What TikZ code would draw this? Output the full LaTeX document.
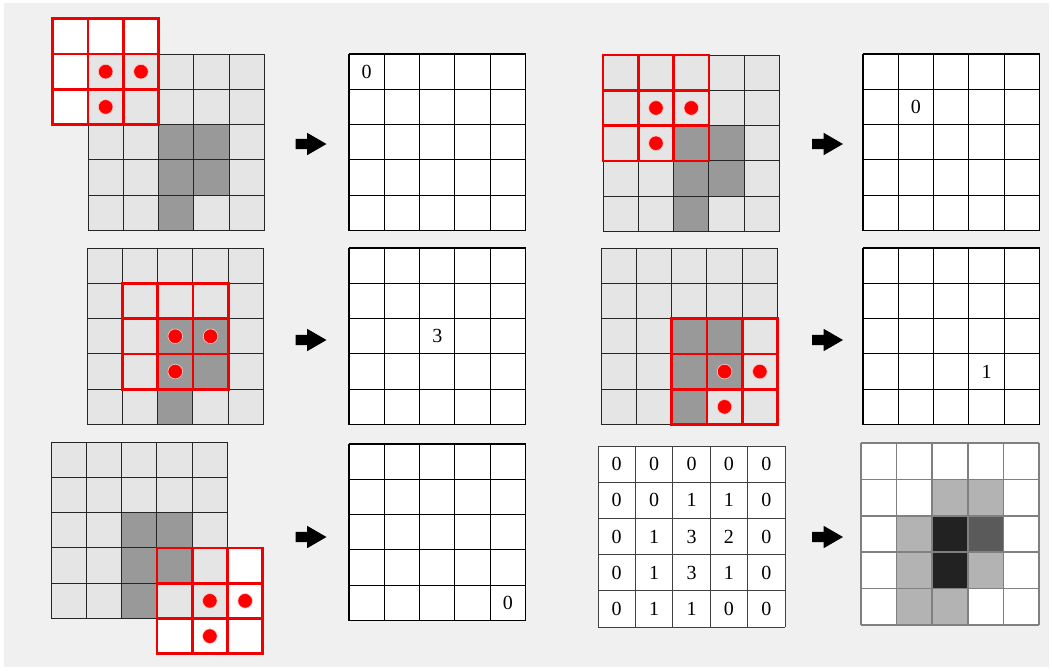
\documentclass[tikz,border=0pt]{standalone}
\usepackage{fontspec}
\setmainfont{Liberation Serif}
\usetikzlibrary{shapes.arrows}
\definecolor{canvas}{HTML}{F0F0F0}
\definecolor{pixlight}{HTML}{E5E5E5}
\definecolor{pixdark}{HTML}{999999}
\definecolor{kernred}{HTML}{F00000}
\definecolor{inkline}{HTML}{262626}
\definecolor{res0}{HTML}{FFFFFF}
\definecolor{res1}{HTML}{B3B3B3}
\definecolor{res2}{HTML}{5A5A5A}
\definecolor{res3}{HTML}{222222}
\tikzset{
  cellsz/.style={x=35.3pt, y=-35.3pt},
  imgline/.style={draw=inkline, line width=0.9pt},
  outline/.style={draw=black, line width=1.1pt},
  kernline/.style={draw=kernred, line width=2.8pt, line cap=rect},
  dot/.style={fill=red, draw=white!80!red, line width=0.6pt},
  val/.style={font=\fontsize{20}{23}\selectfont, inner sep=0pt},
  blockarrow/.style={single arrow, fill=black, draw=none,
                     inner xsep=0pt, inner ysep=5pt,
                     minimum height=31pt,
                     single arrow head extend=6pt, single arrow tip angle=60},
  inimg/.pic={
    \fill[pixlight] (0,0) rectangle (5,5);
    \foreach \c/\r in {2/2,3/2,2/3,3/3,2/4}
      \fill[pixdark] (\c,\r) rectangle ++(1,1);
    \foreach \i in {0,...,5} {
      \draw[imgline] (\i,0) -- (\i,5);
      \draw[imgline] (0,\i) -- (5,\i);
    }
  },
  kernback/.pic={
    \fill[white] (0,0) rectangle (3,3);
  },
  kernel/.pic={
    \foreach \i in {0,...,3} {
      \draw[kernline] (\i,0) -- (\i,3);
      \draw[kernline] (0,\i) -- (3,\i);
    }
    \foreach \c/\r in {1/1,2/1,1/2}
      \draw[dot] (\c+0.5,\r+0.5) circle[radius=7.3pt];
  },
  outgrid/.pic={
    \fill[white] (0,0) rectangle (5,5);
    \foreach \i in {0,...,5} {
      \draw[outline] (\i,0) -- (\i,5);
      \draw[outline] (0,\i) -- (5,\i);
    }
  }
}

\begin{document}
\begin{tikzpicture}[x=1pt,y=-1pt]
  \useasboundingbox (0,0) rectangle (1052,670);
  \fill[canvas] (4,3) rectangle (1049,667);

  % step 1: kernel on the top-left corner
  \begin{scope}[shift={(88,54)},cellsz]
    \pic at (-1,-1) {kernback};
    \pic {inimg};
    \pic at (-1,-1) {kernel};
  \end{scope}
  \node[blockarrow] (arrowa) at (306.5,144) {};
  \begin{scope}[shift={(349,54)},cellsz]
    \pic {outgrid};
    \node[val] (vala) at (0.5,0.5) {0};
  \end{scope}

  % step 2
  \begin{scope}[shift={(603,55)},cellsz]
    \pic {inimg};
    \pic at (0,0) {kernel};
  \end{scope}
  \node[blockarrow] (arrowb) at (823,144) {};
  \begin{scope}[shift={(863,54)},cellsz]
    \pic {outgrid};
    \node[val] (valb) at (1.5,1.5) {0};
  \end{scope}

  % step 3: kernel over the centre
  \begin{scope}[shift={(87,248)},cellsz]
    \pic {inimg};
    \pic at (1,1) {kernel};
  \end{scope}
  \node[blockarrow] (arrowc) at (306.5,340) {};
  \begin{scope}[shift={(349,248)},cellsz]
    \pic {outgrid};
    \node[val] (valc) at (2.5,2.5) {3};
  \end{scope}

  % step 4
  \begin{scope}[shift={(601,248)},cellsz]
    \pic {inimg};
    \pic at (2,2) {kernel};
  \end{scope}
  \node[blockarrow] (arrowd) at (823,340) {};
  \begin{scope}[shift={(863,248)},cellsz]
    \pic {outgrid};
    \node[val] (vald) at (3.5,3.5) {1};
  \end{scope}

  % step 5: kernel past the bottom-right corner
  \begin{scope}[shift={(51,442)},cellsz]
    \pic at (3,3) {kernback};
    \pic {inimg};
    \pic at (3,3) {kernel};
  \end{scope}
  \node[blockarrow] (arrowe) at (306.5,537) {};
  \begin{scope}[shift={(349,444)},cellsz]
    \pic {outgrid};
    \node[val] (vale) at (4.5,4.5) {0};
  \end{scope}

  % result as numbers and as shades
  \begin{scope}[shift={(598,446)},x=37.4pt,y=-36.2pt]
    \fill[white] (0,0) rectangle (5,5);
    \foreach \row [count=\r from 0] in {{0,0,0,0,0},{0,0,1,1,0},{0,1,3,2,0},{0,1,3,1,0},{0,1,1,0,0}}
      \foreach \v [count=\c from 0] in \row
        \node[val] (num-\r-\c) at (\c+0.5,\r+0.5) {\v};
    \foreach \i in {0,...,5} {
      \draw[draw=black!75, line width=0.9pt] (\i,0) -- (\i,5);
      \draw[draw=black!75, line width=0.9pt] (0,\i) -- (5,\i);
    }
  \end{scope}
  \node[blockarrow] (arrowf) at (823,537) {};
  \begin{scope}[shift={(861,443)},x=35.6pt,y=-36.4pt]
    \foreach \row [count=\r from 0] in {{0,0,0,0,0},{0,0,1,1,0},{0,1,3,2,0},{0,1,3,1,0},{0,1,1,0,0}}
      \foreach \v [count=\c from 0] in \row
        \fill[res\v] (\c,\r) rectangle ++(1,1);
    \foreach \i in {0,...,5} {
      \draw[draw=black!50, line width=1.6pt] (\i,0) -- (\i,5);
      \draw[draw=black!50, line width=1.6pt] (0,\i) -- (5,\i);
    }
  \end{scope}
\end{tikzpicture}
\end{document}
